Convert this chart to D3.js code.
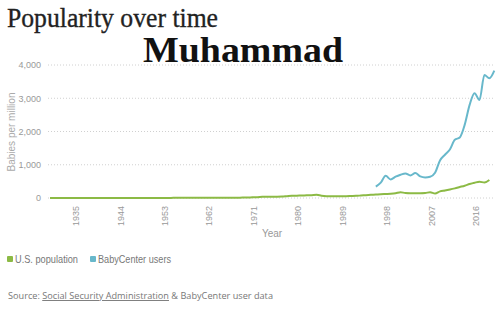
<!DOCTYPE html>
<html>
<head>
<meta charset="utf-8">
<script src="https://cdnjs.cloudflare.com/ajax/libs/d3/7.8.5/d3.min.js"></script>
<style>
  body { margin: 0; background: #fff; }
  svg { display: block; }
</style>
</head>
<body>
<div id="chart"></div>
<script>
// yearly babies per million named Muhammad
var popYears = d3.range(1929, 2019);
var popValues = [
  2, 2, 2, 2, 2, 2, 2, 2, 2, 2,          // 1929-1938
  2, 2, 2, 2, 2, 2, 2, 2, 2, 2,          // 1939-1948
  3, 3, 3, 3, 3, 4, 4, 4, 4, 5,          // 1949-1958
  5, 5, 5, 6, 6, 7, 8, 9, 10, 12,        // 1959-1968
  15, 20, 25, 35, 40, 38, 40, 45, 55, 65, // 1969-1978
  70, 75, 80, 85, 95, 70, 55, 50, 50, 55, // 1979-1988
  55, 60, 65, 75, 85, 95, 105, 115, 120, 125, // 1989-1998
  140, 175, 150, 145, 145, 145, 150, 175, 135, 200, // 1999-2008
  225, 255, 290, 330, 370, 420, 460, 490, 465, 540  // 2009-2018
];

var bcYears = d3.range(1995, 2020);
var bcValues = [
  340, 460, 670, 560, 640, 700, 740, 680, 750, 650,
  620, 640, 760, 1130, 1300, 1460, 1750, 1820, 2200, 2800,
  3150, 2950, 3700, 3600, 3830
];

var xTicks = [1935, 1944, 1953, 1962, 1971, 1980, 1989, 1998, 2007, 2016];
var yTicks = [0, 1000, 2000, 3000, 4000];

var seriesNames = ["U.S. population", "BabyCenter users"];
var seriesColors = ["#8cba45", "#68b8cb"];

var width = 500,
    height = 324;

var svg = d3.select("#chart")
  .append("svg")
    .attr("width", width)
    .attr("height", height);

// titles
svg.append("text")
  .attr("x", 7).attr("y", 27)
  .attr("font-family", "Liberation Serif, serif")
  .attr("font-size", 28)
  .attr("fill", "#222")
  .attr("stroke", "#222")
  .attr("stroke-width", 0.35)
  .attr("textLength", 211)
  .attr("lengthAdjust", "spacingAndGlyphs")
  .text("Popularity over time");

svg.append("text")
  .attr("x", 143).attr("y", 62)
  .attr("font-family", "Liberation Serif, serif")
  .attr("font-weight", "bold")
  .attr("font-size", 36)
  .attr("fill", "#111")
  .attr("textLength", 200)
  .attr("lengthAdjust", "spacingAndGlyphs")
  .text("Muhammad");

// scales
var x = d3.scaleLinear().domain([1929, 2019]).range([50, 494.3]);
var y = d3.scaleLinear().domain([0, 4000]).range([198, 65]);

// gridlines
svg.append("g")
  .selectAll("line")
  .data(yTicks)
  .enter()
  .append("line")
    .attr("x1", 48).attr("x2", 495)
    .attr("y1", function(d) { return y(d); })
    .attr("y2", function(d) { return y(d); })
    .attr("stroke", "#d0d0d0")
    .attr("stroke-width", 1)
    .attr("stroke-dasharray", "1,2");

// y axis labels
var yAxis = svg.append("g")
  .attr("transform", "translate(44,0)")
  .call(d3.axisLeft(y).tickValues(yTicks).tickFormat(d3.format(",")).tickSize(0).tickPadding(3));
yAxis.select(".domain").remove();
yAxis.selectAll("text")
  .attr("font-family", "Liberation Sans, Arial, sans-serif")
  .attr("font-size", 9)
  .attr("fill", "#999");

svg.append("text")
  .attr("transform", "translate(15,132) rotate(-90)")
  .attr("text-anchor", "middle")
  .attr("font-family", "Liberation Sans, Arial, sans-serif")
  .attr("font-size", 10)
  .attr("fill", "#aaa")
  .text("Babies per million");

// x axis labels, rotated
svg.append("g")
  .selectAll("text")
  .data(xTicks)
  .enter()
  .append("text")
    .attr("transform", function(d) { return "translate(" + (x(d) - 0.5) + ",206) rotate(-90)"; })
    .attr("text-anchor", "end")
    .attr("font-family", "Liberation Sans, Arial, sans-serif")
    .attr("font-size", 9)
    .attr("fill", "#999")
    .text(function(d) { return d; });

svg.append("text")
  .attr("x", 272).attr("y", 237)
  .attr("text-anchor", "middle")
  .attr("font-family", "Liberation Sans, Arial, sans-serif")
  .attr("font-size", 10)
  .attr("fill", "#999")
  .text("Year");

// lines
var line = d3.line()
  .x(function(d) { return x(d[0]); })
  .y(function(d) { return y(d[1]); })
  .curve(d3.curveMonotoneX);

var series = [d3.zip(popYears, popValues), d3.zip(bcYears, bcValues)];

svg.selectAll("path.series")
  .data(series)
  .enter()
  .append("path")
    .attr("class", "series")
    .attr("d", line)
    .attr("fill", "none")
    .attr("stroke", function(d, i) { return seriesColors[i]; })
    .attr("stroke-width", 2)
    .attr("stroke-linejoin", "round");

// legend
var legendX = [7, 90];
var legendW = [63, 73];
var legend = svg.selectAll("g.legend")
  .data(seriesNames)
  .enter()
  .append("g")
    .attr("class", "legend")
    .attr("transform", function(d, i) { return "translate(" + legendX[i] + ",256)"; });

legend.append("rect")
  .attr("x", 0).attr("y", 0)
  .attr("width", 6).attr("height", 6)
  .attr("rx", 1)
  .attr("fill", function(d, i) { return seriesColors[i]; });

legend.append("text")
  .attr("x", 8).attr("y", 7)
  .attr("font-family", "Liberation Sans, Arial, sans-serif")
  .attr("font-size", 10.5)
  .attr("fill", "#777")
  .attr("textLength", function(d, i) { return legendW[i]; })
  .attr("lengthAdjust", "spacingAndGlyphs")
  .text(function(d) { return d; });

// source note
var source = svg.append("text")
  .attr("x", 8).attr("y", 299)
  .attr("font-family", "Open Sans, sans-serif")
  .attr("font-size", 9.3)
  .attr("fill", "#777")
  .attr("textLength", 265)
  .attr("lengthAdjust", "spacingAndGlyphs");
source.append("tspan").text("Source: ");
source.append("tspan").attr("text-decoration", "underline").text("Social Security Administration");
source.append("tspan").text(" & BabyCenter user data");
</script>
</body>
</html>
